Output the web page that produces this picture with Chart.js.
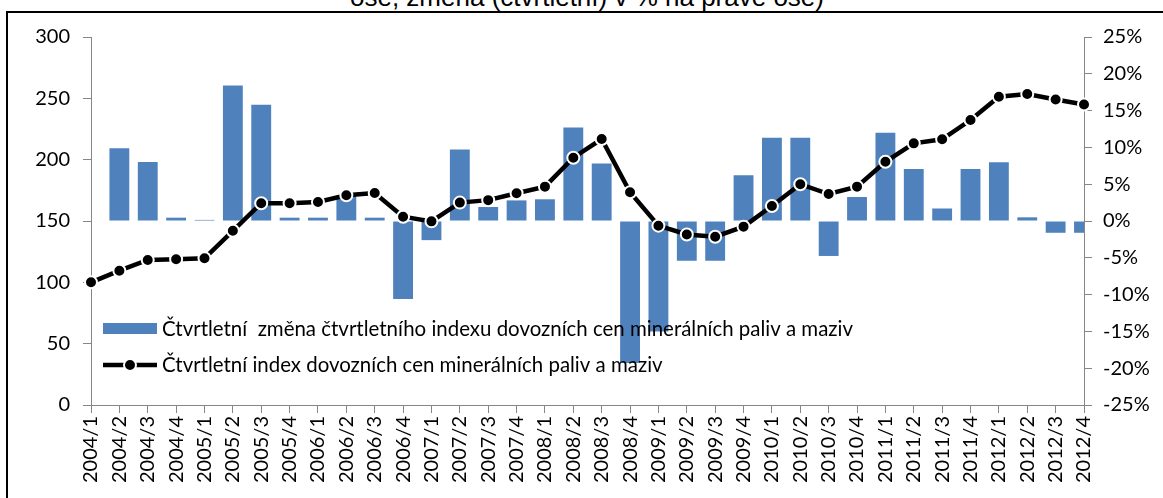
<!DOCTYPE html>
<html>
<head>
<meta charset="utf-8">
<script src="https://cdn.jsdelivr.net/npm/chart.js@4"></script>
<style>
html,body{margin:0;padding:0;background:#fff;}
#wrap{position:relative;width:1163px;height:498px;overflow:hidden;background:#fff;}
#title{position:absolute;left:350px;top:-16.5px;font:26px/26px "Liberation Sans",Arial,sans-serif;white-space:nowrap;color:#000;}
#frame{position:absolute;left:6px;top:11px;width:3000px;height:3000px;border-left:2px solid #000;border-top:2px solid #000;}
canvas{position:absolute;left:0;top:0;}
</style>
</head>
<body>
<div id="wrap">
  <div id="title">ose, změna (čtvrtletní) v % na pravé ose)</div>
  <div id="frame"></div>
  <canvas id="c" width="1163" height="498"></canvas>
</div>
<script>
// ---- data ----
const categories = ["2004/1","2004/2","2004/3","2004/4","2005/1","2005/2","2005/3","2005/4",
  "2006/1","2006/2","2006/3","2006/4","2007/1","2007/2","2007/3","2007/4",
  "2008/1","2008/2","2008/3","2008/4","2009/1","2009/2","2009/3","2009/4",
  "2010/1","2010/2","2010/3","2010/4","2011/1","2011/2","2011/3","2011/4",
  "2012/1","2012/2","2012/3","2012/4"];
// quarterly index (left axis)
const indexValues = [100, 109.5, 118.2, 118.8, 119.6, 142, 164.5, 164.5,
  165.5, 171, 172.8, 153.5, 149.7, 165, 167, 172.6,
  178, 201.6, 216.8, 173.4, 146.2, 139, 137.2, 145.4,
  162.2, 180, 172, 178, 198.3, 213.3, 216.6, 232.3,
  251.3, 253.5, 249, 245];
// quarterly change in % (right axis)
const changeValues = [null, 9.9, 8.0, 0.45, 0.15, 18.4, 15.8, 0.45,
  0.45, 3.5, 0.45, -10.6, -2.6, 9.7, 1.9, 2.8,
  2.95, 12.7, 7.8, -19.3, -15.0, -5.4, -5.4, 6.2,
  11.3, 11.3, -4.75, 3.26, 12.0, 7.07, 1.7, 7.07,
  7.97, 0.5, -1.6, -1.6];
const seriesNames = ["Čtvrtletní  změna čtvrtletního indexu dovozních cen minerálních paliv a maziv",
  "Čtvrtletní index dovozních cen minerálních paliv a maziv"];
const leftAxis = [0, 300, 50];     // min, max, step
const rightAxis = [-25, 25, 5];    // min, max, step (percent)

// ---- styles ----
const FONT = "Lato, 'Open Sans', sans-serif";
const AXIS_COLOR = "#868686";
const BAR_COLOR = "#4F81BD";

const legendPlugin = {
  id: 'insideLegend',
  afterDraw(chart) {
    const ctx = chart.ctx;
    ctx.save();
    let size = 19;
    ctx.font = size + "px " + FONT;
    const w = ctx.measureText(seriesNames[1]).width;
    size = size * 501 / w;
    ctx.font = size + "px " + FONT;
    ctx.textBaseline = "middle";
    ctx.textAlign = "left";
    // item 1: bar
    ctx.fillStyle = BAR_COLOR;
    ctx.fillRect(103, 323, 54, 11);
    ctx.fillStyle = "#000";
    ctx.fillText(seriesNames[0], 162, 329);
    // item 2: line with marker
    ctx.strokeStyle = "#000";
    ctx.lineWidth = 4.5;
    ctx.beginPath();
    ctx.moveTo(103, 365);
    ctx.lineTo(157, 365);
    ctx.stroke();
    ctx.beginPath();
    ctx.arc(130, 365, 6, 0, Math.PI * 2);
    ctx.fillStyle = "#000";
    ctx.fill();
    ctx.lineWidth = 2;
    ctx.strokeStyle = "#fff";
    ctx.stroke();
    ctx.fillStyle = "#000";
    ctx.fillText(seriesNames[1], 162, 365);
    ctx.restore();
  }
};

const tickFont = { family: FONT, size: 20 };

new Chart(document.getElementById('c'), {
  type: 'bar',
  data: {
    labels: categories,
    datasets: [
      {
        type: 'line',
        label: seriesNames[1],
        data: indexValues,
        yAxisID: 'y',
        borderColor: '#000',
        borderWidth: 4.5,
        pointRadius: 6,
        pointBackgroundColor: '#000',
        pointBorderColor: '#fff',
        pointBorderWidth: 2,
        tension: 0,
        order: 0
      },
      {
        type: 'bar',
        label: seriesNames[0],
        data: changeValues,
        yAxisID: 'y1',
        backgroundColor: BAR_COLOR,
        borderWidth: 0,
        barPercentage: 0.7,
        categoryPercentage: 1,
        order: 1
      }
    ]
  },
  options: {
    responsive: false,
    devicePixelRatio: 1,
    animation: false,
    events: [],
    layout: { padding: { top: 37, left: 0, right: 0, bottom: 0 } },
    plugins: { legend: { display: false }, tooltip: { enabled: false }, title: { display: false } },
    scales: {
      x: {
        offset: false,
        grid: { display: true, drawOnChartArea: false, offset: false, tickLength: 8, color: AXIS_COLOR },
        border: { color: AXIS_COLOR, width: 1 },
        ticks: { minRotation: 90, maxRotation: 90, autoSkip: false, padding: 3, color: '#000', font: tickFont },
        afterFit(s) { s.height = 93; }
      },
      y: {
        position: 'left',
        min: leftAxis[0], max: leftAxis[1],
        grid: { display: true, drawOnChartArea: false, tickLength: 8, color: AXIS_COLOR },
        border: { color: AXIS_COLOR, width: 1 },
        ticks: { stepSize: leftAxis[2], padding: 13, color: '#000', font: tickFont },
        afterFit(s) { s.width = 91; }
      },
      y1: {
        position: 'right',
        min: rightAxis[0], max: rightAxis[1],
        grid: { display: true, drawOnChartArea: false, tickLength: 8, color: AXIS_COLOR },
        border: { color: AXIS_COLOR, width: 1 },
        ticks: { stepSize: rightAxis[2], padding: 11, color: '#000', font: tickFont, callback: v => v + '%' },
        afterFit(s) { s.width = 79; }
      }
    }
  },
  plugins: [legendPlugin]
});
</script>
</body>
</html>
